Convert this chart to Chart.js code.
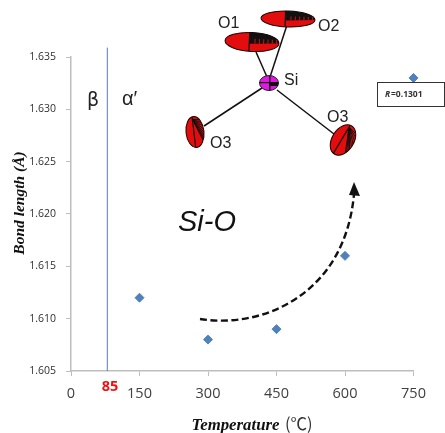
<!DOCTYPE html>
<html>
<head>
<meta charset="utf-8">
<style>html,body{margin:0;padding:0;background:#fff}#w{width:445px;height:433px;position:relative}</style>
<script src="https://cdn.jsdelivr.net/npm/chart.js@4/dist/chart.umd.min.js"></script>
</head>
<body>
<div id="w"><canvas id="c" width="445" height="433"></canvas></div>
<script>
const temperatures = [150, 300, 450, 600, 750];
const bondLengths = [1.612, 1.608, 1.609, 1.616, 1.633];
const boundaryX = [79.5, 79.5];
const boundaryY = [1.605, 1.6359];
const xTicks = [0, 150, 300, 450, 600, 750];
const yTicks = [1.605, 1.610, 1.615, 1.620, 1.625, 1.630, 1.635];

function ell(ctx, a) {
  ctx.save();
  ctx.translate(a.x, a.y); ctx.rotate(a.r * Math.PI / 180);
  ctx.beginPath(); ctx.ellipse(0, 0, a.rx, a.ry, 0, 0, Math.PI * 2);
  ctx.fillStyle = a.c; ctx.fill();
  ctx.lineWidth = 1; ctx.strokeStyle = '#200'; ctx.stroke();
  ctx.clip();
  ctx.fillStyle = '#111';
  ctx.beginPath();
  if (a.shade === 'h') {
    ctx.moveTo(-a.rx * .1, -a.ry); ctx.lineTo(a.rx, -a.ry); ctx.lineTo(a.rx, 0); ctx.lineTo(-a.rx * .1, a.ry * .2);
    ctx.closePath(); ctx.fill();
    ctx.strokeStyle = '#c11'; ctx.lineWidth = 1;
    for (let i = 1; i < 7; i++) {
      const x = -a.rx * .05 + i * a.rx * .16;
      ctx.beginPath(); ctx.moveTo(x, -a.ry * .35); ctx.lineTo(x, a.ry * .15); ctx.stroke();
    }
    ctx.strokeStyle = '#111'; ctx.lineWidth = 1.2;
    ctx.beginPath(); ctx.moveTo(-a.rx * .1, -a.ry); ctx.lineTo(-a.rx * .1, a.ry); ctx.stroke();
  } else {
    ctx.strokeStyle = '#111'; ctx.lineWidth = .9;
    for (let i = 0; i < 9; i++) {
      ctx.beginPath(); ctx.moveTo(-a.rx * .15, -a.ry * .85); ctx.lineTo(a.rx, -a.ry * .7 + i * a.ry * .2); ctx.stroke();
    }
    ctx.lineWidth = 1.2;
    ctx.beginPath(); ctx.moveTo(-a.rx * .15, -a.ry); ctx.lineTo(-a.rx * .1, a.ry); ctx.stroke();
  }
  ctx.restore();
}

const overlay = {
  id: 'overlay',
  afterDraw(chart) {
    const ctx = chart.ctx;
    ctx.save();
    ctx.textBaseline = 'alphabetic'; ctx.textAlign = 'left';

    // bonds
    ctx.strokeStyle = '#111'; ctx.lineWidth = 1.5;
    [[267,77,256,52],[270,77,287,25],[262,88,204,126],[277,90,334,134]].forEach(b => {
      ctx.beginPath(); ctx.moveTo(b[0], b[1]); ctx.lineTo(b[2], b[3]); ctx.stroke();
    });
    // atoms
    ell(ctx, {x:252, y:42, rx:27, ry:9.5, r:3, c:'#e30d0d', shade:'h'});
    ell(ctx, {x:288, y:19, rx:27, ry:8, r:2, c:'#e30d0d', shade:'h'});
    ell(ctx, {x:195, y:132, rx:9, ry:15.5, r:-6, c:'#e30d0d', shade:'s'});
    ell(ctx, {x:343, y:140, rx:11, ry:16.5, r:32, c:'#e30d0d', shade:'s'});
    ctx.save();
    ctx.beginPath(); ctx.ellipse(269, 83, 9.5, 7.5, 0, 0, Math.PI * 2);
    ctx.fillStyle = '#e316e3'; ctx.fill(); ctx.strokeStyle = '#222'; ctx.lineWidth = 1; ctx.stroke(); ctx.clip();
    ctx.fillStyle = '#111'; ctx.fillRect(269, 83, 10, 3); ctx.fillRect(269, 76, 1.5, 16); ctx.fillRect(259, 82, 20, 1.2);
    ctx.restore();

    // atom labels
    ctx.fillStyle = '#222'; ctx.font = '16px "Liberation Sans"';
    ctx.fillText('O1', 218, 28);
    ctx.fillText('O2', 318, 31);
    ctx.fillText('Si', 284, 85);
    ctx.fillText('O3', 327, 122);
    ctx.fillText('O3', 210, 148);

    // phase labels
    ctx.fillStyle = '#222'; ctx.font = '19px "DejaVu Sans"';
    ctx.fillText('β', 87, 106);
    ctx.font = '20px "Liberation Sans"';
    ctx.fillText('α′', 122, 105);

    // Si-O
    ctx.fillStyle = '#111'; ctx.font = 'italic 29px "Liberation Sans"';
    ctx.fillText('Si-O', 178, 231);

    // dashed arrow
    ctx.strokeStyle = '#111'; ctx.lineWidth = 2.4; ctx.setLineDash([7, 3.5]);
    ctx.beginPath(); ctx.moveTo(200, 319);
    ctx.bezierCurveTo(262, 329, 345, 295, 354, 194);
    ctx.stroke(); ctx.setLineDash([]);
    ctx.fillStyle = '#111';
    ctx.beginPath(); ctx.moveTo(354, 182); ctx.lineTo(360, 196); ctx.lineTo(349, 195); ctx.closePath(); ctx.fill();

    // R box
    ctx.fillStyle = '#fff'; ctx.fillRect(377, 82.5, 68, 24);
    ctx.strokeStyle = '#333'; ctx.lineWidth = 1; ctx.strokeRect(377.5, 82.5, 67, 24);
    ctx.fillStyle = '#333'; ctx.font = 'italic bold 8.5px "Open Sans"';
    ctx.fillText('R', 385, 97);
    ctx.font = 'bold 8.5px "Open Sans"';
    ctx.fillText('=0.1301', 391, 97);

    // 85 label
    ctx.fillStyle = '#f01010'; ctx.font = 'bold 14.5px "Open Sans"'; ctx.textAlign = 'center';
    ctx.fillText('85', 110, 391);

    // axis titles
    ctx.textAlign = 'left'; ctx.fillStyle = '#111';
    ctx.font = 'italic bold 16.8px "Liberation Serif"';
    ctx.fillText('Temperature', 191.5, 430);
    ctx.font = '16.5px "Noto Sans CJK SC"'; ctx.fillStyle = '#333';
    ctx.fillText('(℃)', 285, 430);

    ctx.save();
    ctx.translate(24, 203); ctx.rotate(-Math.PI / 2);
    ctx.textAlign = 'center'; ctx.fillStyle = '#111';
    ctx.font = 'italic bold 15.5px "Liberation Serif"';
    ctx.fillText('Bond length (Å)', 0, 0);
    ctx.restore();
    ctx.restore();
  }
};

new Chart(document.getElementById('c'), {
  type: 'scatter',
  data: {
    datasets: [
      { label: 'Si-O', data: temperatures.map((t, i) => ({ x: t, y: bondLengths[i] })),
        pointStyle: 'rectRot', pointRadius: 4.5, pointHoverRadius: 4.5,
        backgroundColor: '#4f81bd', borderColor: '#4f81bd', clip: false },
      { label: 'boundary', type: 'line', data: boundaryX.map((t, i) => ({ x: t, y: boundaryY[i] })),
        borderColor: '#5b7fb5', borderWidth: 1, pointRadius: 0, clip: false }
    ]
  },
  options: {
    responsive: false, animation: false,
    layout: { padding: { left: 0, top: 57, right: 31.5, bottom: 0 } },
    plugins: { legend: { display: false }, tooltip: { enabled: false } },
    scales: {
      x: {
        type: 'linear', min: 0, max: 750,
        afterFit(s) { s.height = 62; },
        afterBuildTicks(s) { s.ticks = xTicks.map(v => ({ value: v })); },
        grid: { drawOnChartArea: false, drawTicks: true, tickLength: 5, color: '#bdbdbd', tickColor: '#bdbdbd' },
        border: { color: '#bdbdbd', width: 1.5 },
        ticks: { color: '#404040', font: { family: '"Open Sans"', size: 14.5 }, padding: 9, maxRotation: 0, autoSkip: false }
      },
      y: {
        type: 'linear', min: 1.605, max: 1.635,
        afterFit(s) { s.width = 71; },
        afterBuildTicks(s) { s.ticks = yTicks.map(v => ({ value: v })); },
        grid: { drawOnChartArea: false, drawTicks: true, tickLength: 5, color: '#bdbdbd', tickColor: '#bdbdbd' },
        border: { color: '#bdbdbd', width: 1.5 },
        ticks: { color: '#303030', font: { family: '"Open Sans"', size: 10.5 }, padding: 10, autoSkip: false,
                 callback: v => v.toFixed(3) }
      }
    }
  },
  plugins: [overlay]
});
</script>
</body>
</html>
